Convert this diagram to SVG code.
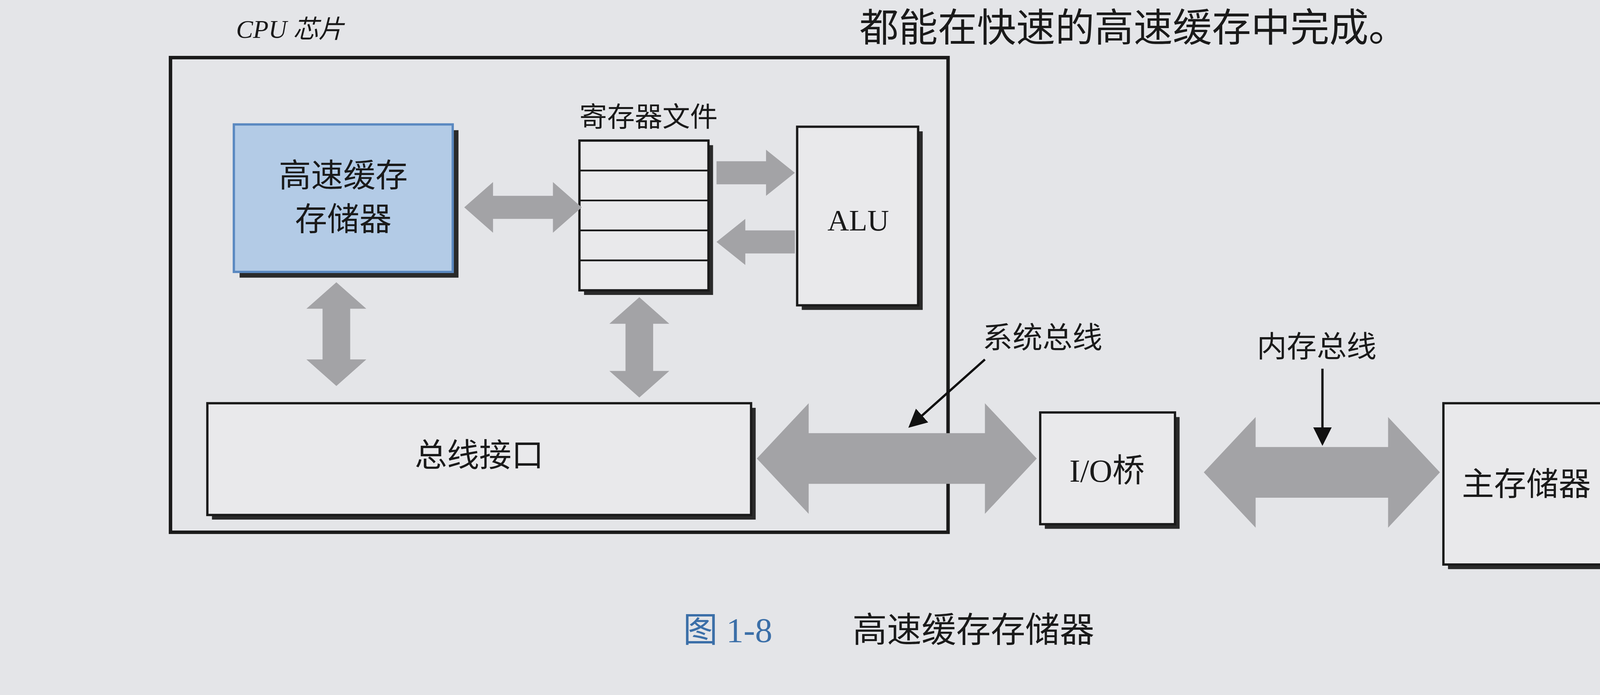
<svg xmlns="http://www.w3.org/2000/svg" width="4624" height="1779" viewBox="0 0 4624 1779">
<defs>
<style>
.box{fill:#e9e9eb;stroke:#1a1a1a;stroke-width:2}
.sh{fill:#2a2a2a}
.t{font-family:"Liberation Serif","Noto Sans CJK SC",serif;fill:#1a1a1a}
.ar{fill:#a3a3a6}
</style>
<marker id="m" markerWidth="8" markerHeight="8" refX="7" refY="4" orient="auto" markerUnits="strokeWidth"><path d="M0,0 L8,4 L0,8 z" fill="#111"/></marker>
</defs>
<rect width="4624" height="1779" fill="#e4e5e8"/>
<g transform="scale(2.949)">
<text class="t" x="1222" y="36" font-size="34" text-anchor="end">都能在快速的高速缓存中完成。</text>
<text class="t" x="205" y="33" font-size="22" font-style="italic">CPU 芯片</text>
<g id="cpu"><rect x="148" y="50" width="675" height="412" fill="none" stroke="#1a1a1a" stroke-width="3"/></g>
<g id="cache"><rect class="sh" x="208" y="113" width="190" height="128"/><rect x="203" y="108" width="190" height="128" fill="#b3cbe6" stroke="#5a88c0" stroke-width="2"/>
<text class="t" x="298" y="162" font-size="28" text-anchor="middle">高速缓存</text><text class="t" x="298" y="200" font-size="28" text-anchor="middle">存储器</text></g>
<g id="regs"><text class="t" x="563" y="110" font-size="24" text-anchor="middle">寄存器文件</text>
<rect class="sh" x="507" y="126" width="112" height="130"/><rect class="box" x="503" y="122" width="112" height="130"/>
<path d="M503 148H615M503 174H615M503 200H615M503 226H615" stroke="#1a1a1a" stroke-width="1.5"/></g>
<g id="alu"><rect class="sh" x="696" y="114" width="105" height="155"/><rect class="box" x="692" y="110" width="105" height="155"/>
<text class="t" x="745" y="200" font-size="26" text-anchor="middle">ALU</text></g>
<g id="busif"><rect class="sh" x="184" y="354" width="472" height="97"/><rect class="box" x="180" y="350" width="472" height="97"/>
<text class="t" x="416" y="405" font-size="28" text-anchor="middle">总线接口</text></g>
<g id="io"><rect class="sh" x="907" y="362" width="117" height="97"/><rect class="box" x="903" y="358" width="117" height="97"/>
<text class="t" x="961" y="418" font-size="28" text-anchor="middle">I/O桥</text></g>
<g id="mem"><rect class="sh" x="1257" y="354" width="145" height="140"/><rect class="box" x="1253" y="350" width="145" height="140"/>
<text class="t" x="1325" y="430" font-size="28" text-anchor="middle">主存储器</text></g>
<g id="connectors">
<polygon class="ar" points="403,180 428,158 428,170 480,170 480,158 505,180 480,202 480,190 428,190 428,202"/>
<polygon class="ar" points="622,140 665,140 665,130 690,150 665,170 665,160 622,160"/>
<polygon class="ar" points="690,200 647,200 647,190 622,210 647,230 647,220 690,220"/>
<polygon class="ar" points="292,245 318,268 304,268 304,312 318,312 292,335 266,312 280,312 280,268 266,268"/>
<polygon class="ar" points="555,258 581,281 567,281 567,322 581,322 555,345 529,322 543,322 543,281 529,281"/>
<polygon class="ar" points="657,398 702,350 702,376 855,376 855,350 900,398 855,446 855,420 702,420 702,446"/>
<polygon class="ar" points="1045,410 1090,362 1090,388 1205,388 1205,362 1250,410 1205,458 1205,432 1090,432 1090,458"/>
<line x1="855" y1="312" x2="790" y2="370" stroke="#111" stroke-width="2" marker-end="url(#m)"/>
<line x1="1148" y1="320" x2="1148" y2="385" stroke="#111" stroke-width="2" marker-end="url(#m)"/>
<text class="t" x="905" y="302" font-size="26" text-anchor="middle">系统总线</text>
<text class="t" x="1143" y="310" font-size="26" text-anchor="middle">内存总线</text>
</g>
<text x="593" y="557" font-size="30" font-family="Liberation Serif,'Noto Sans CJK SC',serif" fill="#3b6fa8">图 1-8</text>
<text class="t" x="740" y="557" font-size="30">高速缓存存储器</text>
</g>
</svg>
